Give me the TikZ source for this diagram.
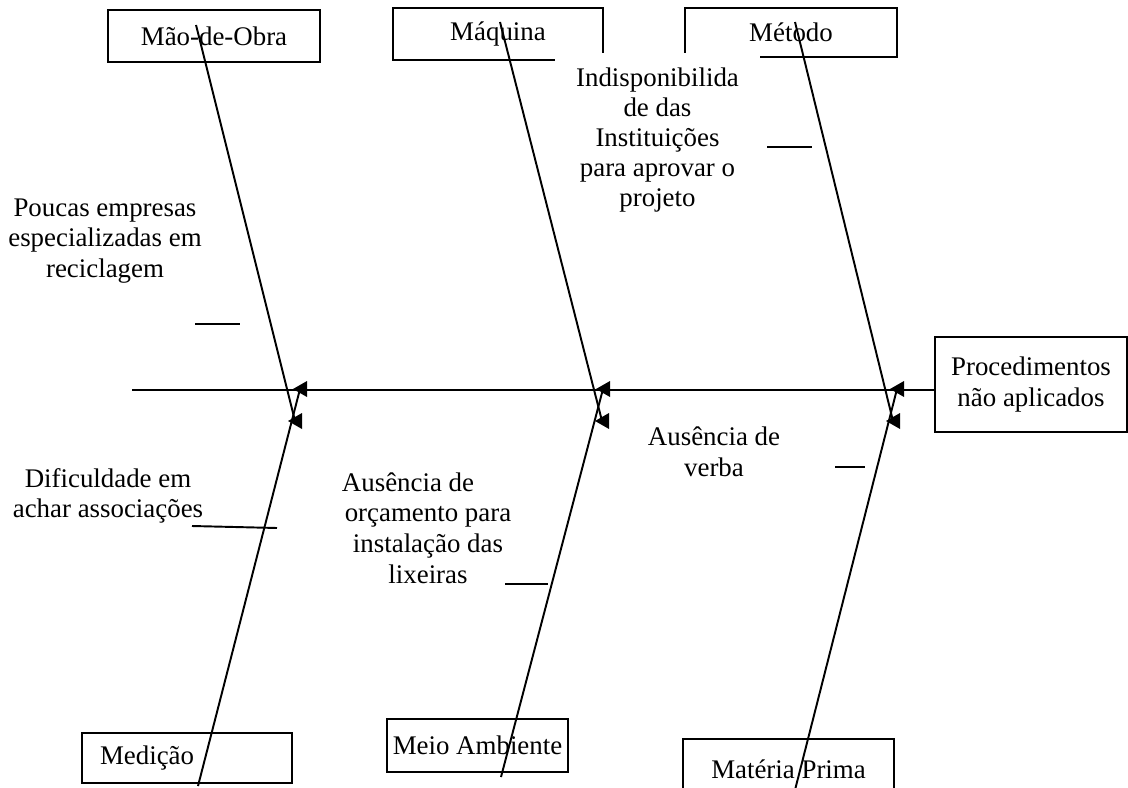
\documentclass[tikz,border=0pt]{standalone}
\usepackage{fontspec}
\setmainfont{Liberation Serif}
\begin{document}
\begin{tikzpicture}[x=0.02cm,y=-0.02cm,
  every node/.style={font=\fontsize{15.3pt}{17.4pt}\selectfont},
  cause/.style={draw, line width=1.1pt, inner sep=0pt},
  lbl/.style={align=center, inner sep=0pt},
  bone/.style={line width=1.1pt},
  head/.pic={\fill (-7,0) -- (7,-8) -- (7,8) -- cycle;}]
\useasboundingbox (0,0) rectangle (1128,787);
\clip (0,0) rectangle (1128,787);

% cause boxes
\node[cause, minimum width=4.24cm, minimum height=1.04cm] (mao) at (214,36) {Mão-de-Obra};
\node[cause, minimum width=4.2cm, minimum height=1.04cm] (maquina) at (498,34) {Máquina};
\node[cause, minimum width=4.24cm, minimum height=0.98cm] (metodo) at (791,32.5) {Método};
\node[cause, minimum width=4.2cm, minimum height=1.0cm, text width=3.48cm, align=left, inner xsep=0.36cm] (medicao) at (187,758) {Medição};
\node[cause, minimum width=3.62cm, minimum height=1.06cm] (meio) at (477.5,745.5) {Meio Ambiente};
\node[cause, minimum width=4.22cm, minimum height=1.2cm] (materia) at (788.5,769) {Matéria Prima};

% effect box
\node[cause, align=center, minimum width=3.84cm, minimum height=1.9cm] (efeito) at (1031,384.5) {Procedimentos\\não aplicados};

% sub-cause texts
\node[lbl, fill=white, minimum width=4.1cm, minimum height=3.5cm, font=\fontsize{15.3pt}{17pt}\selectfont] (indisp) at (657.5,140)
  {Indisponibilida\\de das\\Instituições\\para aprovar o\\projeto};
\node[lbl] (poucas) at (105,241) {Poucas empresas\\especializadas em\\reciclagem};
\node[lbl] (dific) at (108,496) {Dificuldade em\\achar associações};
\node[lbl] (orcam) at (428,528) {Ausência de\makebox[0.8cm]{}\\orçamento para\\instalação das\\lixeiras};
\node[lbl] (verba) at (714,452) {Ausência de\\verba};

% spine
\coordinate (spineL) at (132,390);
\draw[bone] (spineL) -- (spineL -| efeito.west);

% bones
\coordinate (t1s) at (196,25);  \coordinate (t1e) at (295,421);
\coordinate (b1s) at (198,786); \coordinate (b1e) at (300,389);
\coordinate (t2s) at (500,22);  \coordinate (t2e) at (602,421);
\coordinate (b2s) at (501,777); \coordinate (b2e) at (603,389);
\coordinate (t3s) at (795,22);  \coordinate (t3e) at (893,421);
\coordinate (b3s) at (795,790); \coordinate (b3e) at (897,389);
\foreach \b in {t1,b1,t2,b2,t3,b3}{
  \draw[bone] (\b s) -- (\b e);
  \pic at (\b e) {head};
}

% short leader lines
\coordinate (d1a) at (195,324); \coordinate (d1b) at (240,324);
\coordinate (d2a) at (192,526); \coordinate (d2b) at (277,528);
\coordinate (d3a) at (505,584); \coordinate (d3b) at (548,584);
\coordinate (d4a) at (835,467); \coordinate (d4b) at (865,467);
\coordinate (d5a) at (767,147); \coordinate (d5b) at (812,147);
\foreach \d in {d1,d2,d3,d4,d5}{
  \draw[bone] (\d a) -- (\d b);
}
\end{tikzpicture}
\end{document}
